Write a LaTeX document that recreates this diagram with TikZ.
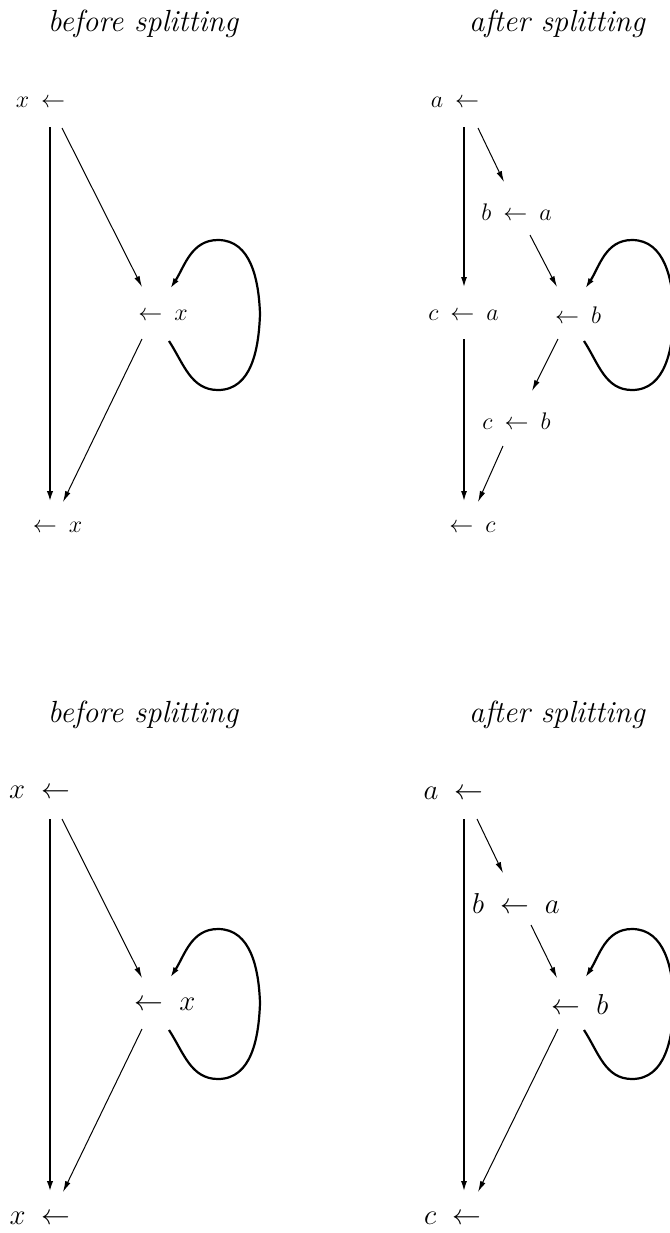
\documentclass[tikz,border=0pt]{standalone}
\usetikzlibrary{arrows.meta}
\newcommand{\smsp}{\thickmuskip=9mu\relax}
\newcommand{\bgsp}{\thickmuskip=10mu\relax}
\begin{document}
\begin{tikzpicture}[x=0.5pt,y=-0.5pt,
  title/.style={font=\fontsize{15.3}{17}\selectfont\itshape, inner sep=0pt},
  smallm/.style={font=\fontsize{11.5}{13}\selectfont, inner sep=0pt},
  bigm/.style={font=\fontsize{13.5}{15}\selectfont, inner sep=0pt},
  thickline/.style={line width=1.4pt, -{Latex[length=5.5pt,width=3.2pt]}},
  medline/.style={line width=1pt, -{Latex[length=5.5pt,width=3pt]}},
  thinarrow/.style={line width=0.5pt, -{Latex[length=5.5pt,width=2.8pt]}},
  loopline/.style={line width=1.1pt, -{Latex[length=5.5pt,width=3pt]}}
]
\useasboundingbox (0,0) rectangle (670,1233);

% ===== top-left =====
\node[title] (t1) at (143,24) {before splitting};
\node[smallm] (x1) at (40.5,102) {$\smsp x \leftarrow$};
\node[smallm] (m1) at (163,315) {$\smsp \leftarrow x$};
\node[smallm] (b1) at (57.5,527) {$\smsp \leftarrow x$};
\coordinate (x1v) at (50,127);
\coordinate (b1v) at (50,502);
\coordinate (x1d) at (62,128);
\coordinate (m1i) at (142,287);
\coordinate (m1o) at (142,339);
\coordinate (b1d) at (63,502);
\coordinate (l1s) at (169,341);
\coordinate (l1b) at (218,390);
\coordinate (l1r) at (260,314);
\coordinate (l1t) at (218,240);
\coordinate (l1e) at (170,289);
\draw[thickline] (x1v) -- (b1v);
\draw[thinarrow] (x1d) -- (m1i);
\draw[thinarrow] (m1o) -- (b1d);
\draw[loopline] (l1s) to[out=-57,in=180] (l1b) to[out=0,in=-92] (l1r)
  to[out=92,in=0] (l1t) to[out=180,in=57] (l1e);

% ===== top-right =====
\node[title] (t2) at (557,24) {after splitting};
\node[smallm] (a2) at (455,102) {$\smsp a \leftarrow$};
\node[smallm] (ba2) at (516.5,212) {$\smsp b \leftarrow a$};
\node[smallm] (ca2) at (463.5,315) {$\smsp c \leftarrow a$};
\node[smallm] (mb2) at (578,315) {$\smsp \leftarrow b$};
\node[smallm] (cb2) at (516.5,421) {$\smsp c \leftarrow b$};
\node[smallm] (c2) at (472.5,527) {$\smsp \leftarrow c$};
\coordinate (a2v) at (464,127);
\coordinate (ca2vi) at (464,288);
\coordinate (ca2vo) at (464,339);
\coordinate (c2v) at (464,502);
\coordinate (a2d) at (478,128);
\coordinate (ba2i) at (504,182);
\coordinate (ba2o) at (530,235);
\coordinate (mb2i) at (557,287);
\coordinate (mb2o) at (558,339);
\coordinate (cb2i) at (532,391);
\coordinate (cb2o) at (503,446);
\coordinate (c2d) at (478,502);
\coordinate (l2s) at (584,341);
\coordinate (l2b) at (632,390);
\coordinate (l2r) at (674,314);
\coordinate (l2t) at (632,240);
\coordinate (l2e) at (585,289);
\draw[medline] (a2v) -- (ca2vi);
\draw[medline] (ca2vo) -- (c2v);
\draw[thinarrow] (a2d) -- (ba2i);
\draw[thinarrow] (ba2o) -- (mb2i);
\draw[thinarrow] (mb2o) -- (cb2i);
\draw[thinarrow] (cb2o) -- (c2d);
\draw[loopline] (l2s) to[out=-57,in=180] (l2b) to[out=0,in=-92] (l2r)
  to[out=92,in=0] (l2t) to[out=180,in=57] (l2e);

% ===== bottom-left =====
\node[title] (t3) at (143,715) {before splitting};
\node[bigm] (x3) at (39.5,792) {$\bgsp x \leftarrow$};
\node[bigm] (m3) at (165,1004) {$\bgsp \leftarrow x$};
\node[bigm] (b3) at (40,1218) {$\bgsp x \leftarrow$};
\coordinate (x3v) at (50,819);
\coordinate (b3v) at (50,1192);
\coordinate (x3d) at (62,819);
\coordinate (m3i) at (142,978);
\coordinate (m3o) at (142,1029);
\coordinate (b3d) at (63,1192);
\coordinate (l3s) at (169,1030);
\coordinate (l3b) at (218,1079);
\coordinate (l3r) at (260,1003);
\coordinate (l3t) at (218,929);
\coordinate (l3e) at (170,978);
\draw[thickline] (x3v) -- (b3v);
\draw[thinarrow] (x3d) -- (m3i);
\draw[thinarrow] (m3o) -- (b3d);
\draw[loopline] (l3s) to[out=-57,in=180] (l3b) to[out=0,in=-92] (l3r)
  to[out=92,in=0] (l3t) to[out=180,in=57] (l3e);

% ===== bottom-right =====
\node[title] (t4) at (557,715) {after splitting};
\node[bigm] (a4) at (453.5,793) {$\bgsp a \leftarrow$};
\node[bigm] (ba4) at (516,903) {$\bgsp b \leftarrow a$};
\node[bigm] (mb4) at (580,1004) {$\bgsp \leftarrow b$};
\node[bigm] (c4) at (452.5,1218) {$\bgsp c \leftarrow$};
\coordinate (a4v) at (464,819);
\coordinate (c4v) at (464,1192);
\coordinate (a4d) at (477,819);
\coordinate (ba4i) at (503,873);
\coordinate (ba4o) at (531,925);
\coordinate (mb4i) at (557,978);
\coordinate (mb4o) at (558,1029);
\coordinate (c4d) at (478,1192);
\coordinate (l4s) at (584,1030);
\coordinate (l4b) at (632,1079);
\coordinate (l4r) at (674,1003);
\coordinate (l4t) at (632,929);
\coordinate (l4e) at (585,978);
\draw[medline] (a4v) -- (c4v);
\draw[thinarrow] (a4d) -- (ba4i);
\draw[thinarrow] (ba4o) -- (mb4i);
\draw[thinarrow] (mb4o) -- (c4d);
\draw[loopline] (l4s) to[out=-57,in=180] (l4b) to[out=0,in=-92] (l4r)
  to[out=92,in=0] (l4t) to[out=180,in=57] (l4e);
\end{tikzpicture}
\end{document}
